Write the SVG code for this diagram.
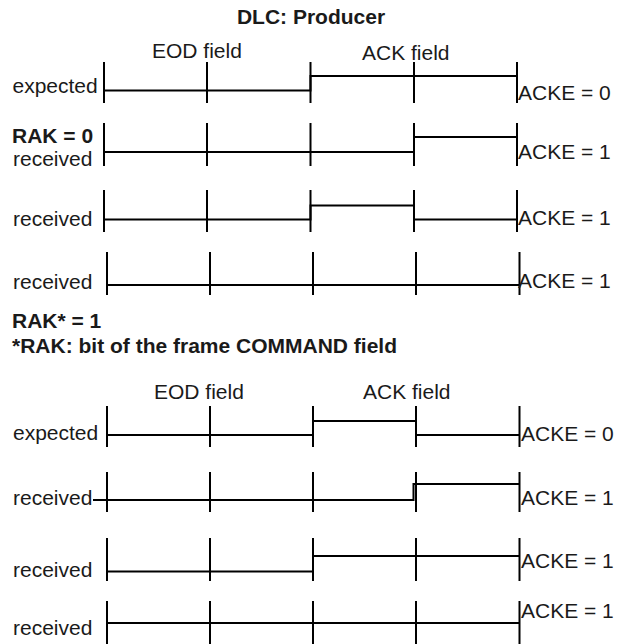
<svg xmlns="http://www.w3.org/2000/svg" width="618" height="644" viewBox="0 0 618 644">
<style>
.w{stroke:#000;stroke-width:2;fill:none}
.t{font-family:"Liberation Sans",Arial,Helvetica,sans-serif;font-size:21px;fill:#1a1a1a}
.b{font-weight:bold}
</style>
<rect width="618" height="644" fill="#fff"/>
<text class="t b" x="311" y="24" text-anchor="middle">DLC: Producer</text>
<g id="hdr1">
<text class="t" x="152" y="58">EOD field</text>
<text class="t" x="362" y="60">ACK field</text>
</g>
<g id="row1">
<text class="t" x="12.5" y="92.5">expected</text>
<path class="w" d="M104 62V103M207 62V103M310.5 62V103M414 62V103M517 62V103"/>
<path class="w" d="M104 90.5H310.5V76H517"/>
<text class="t" x="518" y="100">ACKE = 0</text>
</g>
<g id="row2">
<text class="t b" x="12" y="143">RAK = 0</text>
<text class="t" x="13" y="166">received</text>
<path class="w" d="M104 123V166M207 123V166M310.5 123V166M414 123V166M517 123V166"/>
<path class="w" d="M104 152H414V137H517"/>
<text class="t" x="518" y="159">ACKE = 1</text>
</g>
<g id="row3">
<text class="t" x="13" y="226">received</text>
<path class="w" d="M104 190V232M207 190V232M310.5 190V232M414 190V232M517 190V232"/>
<path class="w" d="M104 219.5H310.5V205.5H414V219.5H517"/>
<text class="t" x="518" y="225">ACKE = 1</text>
</g>
<g id="row4">
<text class="t" x="13" y="289">received</text>
<path class="w" d="M107 252V295M210 252V295M313 252V295M416 252V295M519.5 252V295"/>
<path class="w" d="M107 285H519.5"/>
<text class="t" x="518" y="288">ACKE = 1</text>
</g>
<text class="t b" x="12" y="328">RAK* = 1</text>
<text class="t b" x="12" y="353">*RAK: bit of the frame COMMAND field</text>
<g id="hdr2">
<text class="t" x="154" y="399">EOD field</text>
<text class="t" x="363" y="399">ACK field</text>
</g>
<g id="row5">
<text class="t" x="13" y="440">expected</text>
<path class="w" d="M107 406V447M210 406V447M313 406V447M416 406V447M519.5 406V447"/>
<path class="w" d="M107 435H313V421H416V435H519.5"/>
<text class="t" x="521" y="441">ACKE = 0</text>
</g>
<g id="row6">
<text class="t" x="13" y="505">received</text>
<path class="w" d="M93 500H413.5V484H519.5"/>
<path class="w" d="M107 472V512M210 472V512M313 472V512M416 472V512M519.5 472V512"/>
<text class="t" x="521" y="505">ACKE = 1</text>
</g>
<g id="row7">
<text class="t" x="13" y="577">received</text>
<path class="w" d="M107 538V581M210 538V581M313 538V581M416 538V581M519.5 538V581"/>
<path class="w" d="M107 571.5H313V556H519.5"/>
<text class="t" x="521" y="568">ACKE = 1</text>
</g>
<g id="row8">
<text class="t" x="13" y="635">received</text>
<path class="w" d="M107 601V644M210 601V644M313 601V644M416 601V644M519.5 601V644"/>
<path class="w" d="M107 623H519.5"/>
<text class="t" x="521" y="618">ACKE = 1</text>
</g>
</svg>
